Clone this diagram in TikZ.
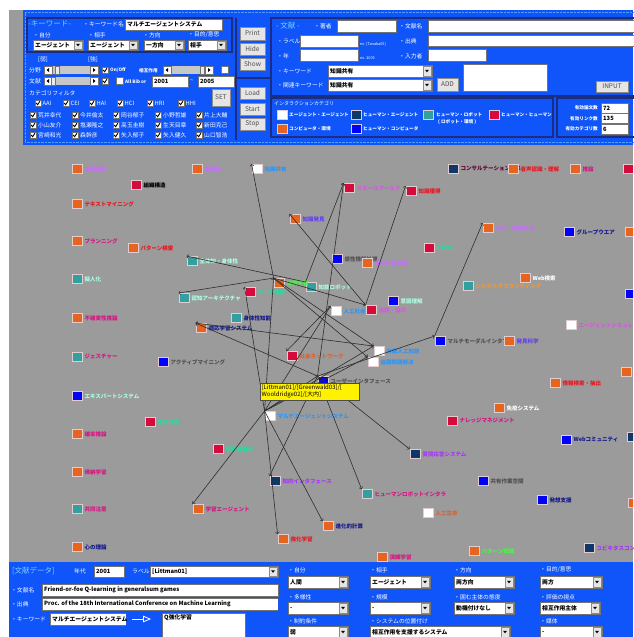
\documentclass[tikz,border=0pt]{standalone}
\usepackage{fontspec}
\setmainfont{Noto Sans CJK JP}
\usepackage{xcolor}
\usetikzlibrary{arrows}
\definecolor{panelblue}{RGB}{15,85,250}
\definecolor{panelnavy}{RGB}{25,45,130}
\definecolor{canvasgray}{RGB}{155,155,155}
\definecolor{titlecyan}{RGB}{120,210,255}
\definecolor{kwnavy}{RGB}{15,55,105}
\definecolor{kwteal}{RGB}{50,160,160}
\definecolor{kwcrim}{RGB}{215,10,60}
\definecolor{kworange}{RGB}{230,100,30}
\definecolor{kwblue}{RGB}{0,0,255}
\definecolor{rimcol}{RGB}{225,205,205}
\definecolor{lnkgray}{RGB}{45,45,45}
\definecolor{lblav}{RGB}{200,110,255}
\definecolor{lbred}{RGB}{235,20,30}
\definecolor{lbmag}{RGB}{215,20,130}
\definecolor{lbmint}{RGB}{170,255,225}
\definecolor{lbsky}{RGB}{40,150,255}
\definecolor{lbpurp}{RGB}{100,60,240}
\definecolor{lbgreen}{RGB}{60,255,60}
\definecolor{lbmaroon}{RGB}{100,0,50}
\definecolor{lborchid}{RGB}{210,90,220}
\definecolor{lbspring}{RGB}{30,225,160}
\definecolor{lbnavy}{RGB}{20,25,140}
\definecolor{lbgray}{RGB}{80,80,80}
\definecolor{lborange}{RGB}{255,150,30}
\definecolor{lbviolet}{RGB}{170,50,255}
\definecolor{lbcoral}{RGB}{225,95,40}
\tikzset{
	field/.style={draw=black!55, fill=white, line width=0.5pt},
	btnsty/.style={draw=black!45, fill=black!10, line width=0.6pt},
	subpanel/.style={draw=panelnavy, line width=1.2pt},
	wtxt/.style={text=white, anchor=west, inner sep=0pt, font=\fontsize{5.8}{7}\selectfont},
	smalltxt/.style={text=white, anchor=west, inner sep=0pt, font=\fontsize{4.6}{5}\selectfont\bfseries},
	fldtxt/.style={text=black, anchor=west, inner sep=0pt, font=\fontsize{5.8}{7}\selectfont\bfseries},
	ttl/.style={text=titlecyan, anchor=west, inner sep=0pt, font=\fontsize{7.5}{8}\selectfont},
	kw/.style={draw=rimcol, line width=0.9pt, minimum width=10pt, minimum height=9pt, inner sep=0pt},
	kwlbl/.style={anchor=west, inner sep=0pt, font=\fontsize{5.5}{6.5}\selectfont\bfseries},
	lnk/.style={->, draw=lnkgray, line width=0.6pt},
}
% widgets
\newcommand{\fld}[5]{\draw[field] (#1,#2) rectangle (#3,#4);
	\node[fldtxt] at ({#1+2},{(#2+#4)/2}) {#5};}
\newcommand{\cmbbox}[5]{\fld{#1}{#2}{#3}{#4}{#5}
	\draw[btnsty] ({#3-9},{#2+1}) rectangle ({#3-1},{#4-1});
	\fill[black] ({#3-7},{(#2+#4)/2-1.2}) -- ({#3-3},{(#2+#4)/2-1.2}) -- ({#3-5},{(#2+#4)/2+1.3}) -- cycle;}
\newcommand{\btn}[5]{\draw[btnsty] (#1,#2) rectangle (#3,#4);
	\node[text=black!70, inner sep=0pt, font=\fontsize{6.5}{7}\selectfont] at ({(#1+#3)/2},{(#2+#4)/2}) {#5};}
\newcommand{\chk}[2]{\draw[field] (#1,#2) rectangle ({#1+6},{#2+6});
	\draw[black, line width=0.9pt] ({#1+1.2},{#2+3}) -- ({#1+2.6},{#2+4.7}) -- ({#1+4.9},{#2+1.2});}
\newcommand{\unchk}[2]{\draw[field] (#1,#2) rectangle ({#1+7},{#2+7});}
\newcommand{\sldr}[4]{\fill[black!22] (#1,{#3-4}) rectangle (#2,{#3+4});
	\draw[field] (#1,{#3-4}) rectangle ({#1+8},{#3+4});
	\draw[field] ({#2-8},{#3-4}) rectangle (#2,{#3+4});
	\fill[black] ({#1+2.5},#3) -- ({#1+5},{#3-2}) -- ({#1+5},{#3+2}) -- cycle;
	\fill[black] ({#2-2.5},#3) -- ({#2-5},{#3-2}) -- ({#2-5},{#3+2}) -- cycle;
	\draw[field, fill=black!8] (#4,{#3-4}) rectangle ({#4+4},{#3+4});}
\newcommand{\lgsq}[3]{\draw[kw, fill=#3] (#1,#2) rectangle ({#1+10},{#2+9});}

\begin{document}
\begin{tikzpicture}[x=1pt,y=-1pt]
	% Frame
	\useasboundingbox (0,0) rectangle (633,637);
	\fill[white] (0,0) rectangle (633,637);
	\fill[canvasgray] (9,10) rectangle (633,637);

	% Top panel
	\fill[panelblue] (23,10) rectangle (633,145);
	\draw[titlecyan!60!panelblue, densely dotted] (25,12.5) rectangle (640,142.5);

	% Keyword box
	\draw[subpanel] (27,18) rectangle (232,52);
	\node[ttl] at (28,24) {-キーワード-};
	\node[wtxt] at (83,24) {・キーワード名};
	\fld{125}{19}{222}{30}{マルチエージェントシステム}
	\node[wtxt] at (33,35) {・自分};
	\node[wtxt] at (88,35) {・相手};
	\node[wtxt] at (143,35) {・方向};
	\node[wtxt] at (188,35) {・目的/意思};
	\cmbbox{33}{40}{83}{50}{エージェント}
	\cmbbox{88}{40}{138}{50}{エージェント}
	\cmbbox{144}{40}{184}{50}{一方向}
	\cmbbox{188}{40}{226}{50}{相手}

	% Sliders and filters
	\node[wtxt] at (38,60) {[弱]};
	\node[wtxt] at (88,60) {[強]};
	\node[wtxt] at (29,70) {分野};
	\sldr{44}{98}{70}{55}
	\chk{102}{67}
	\node[smalltxt] at (110,70.5) {On/Off};
	\node[smalltxt] at (139,70.5) {相互作用};
	\sldr{163}{213}{70}{200}
	\unchk{221}{66}
	\node[wtxt] at (29,81) {文献};
	\sldr{44}{98}{81}{51}
	\chk{102}{78}
	\unchk{116}{77}
	\node[smalltxt] at (125,81.5) {All Bib or};
	\fld{152}{76}{188}{87}{2001}
	\node[wtxt] at (190,81) {\textasciitilde};
	\fld{198}{76}{234}{87}{2005}
	\node[wtxt] at (29,93) {カテゴリフィルタ};
	\foreach \cx/\ct in {35/AAI, 63/CEI, 89/HAI, 117/HCI, 147/HRI, 178/HHI} {
		\chk{\cx}{100}
		\node[wtxt] at (\cx+7.5,103.5) {\ct};
	}
	\btn{212}{89}{230}{106}{SET}
	\foreach \ry/\na/\nb/\nc/\nd/\ne in {115/荒井幸代/今井倫太/岡谷郁子/小野哲雄/片上大輔,
		125/小山友介/塩瀬隆之/高玉圭樹/生天目章/新田克己,
		135/宮崎和光/森幹彦/矢入郁子/矢入健久/山口智浩} {
		\chk{30}{\ry-3}   \node[wtxt] at (38,\ry) {\na};
		\chk{72}{\ry-3}   \node[wtxt] at (80,\ry) {\nb};
		\chk{113}{\ry-3}  \node[wtxt] at (121,\ry) {\nc};
		\chk{155}{\ry-3}  \node[wtxt] at (163,\ry) {\nd};
		\chk{196}{\ry-3}  \node[wtxt] at (204,\ry) {\ne};
	}

	% Buttons
	\draw[subpanel] (236,18) -- (236,140);
	\draw[subpanel] (236,78) -- (271,78);
	\btn{240}{27}{265}{40}{Print}
	\btn{240}{43}{265}{55}{Hide}
	\btn{240}{58}{265}{70}{Show}
	\btn{240}{87}{265}{99}{Load}
	\btn{240}{103}{265}{115}{Start}
	\btn{240}{118}{265}{130}{Stop}

	% Bibliography input box
	\draw[subpanel] (271,18) rectangle (640,96);
	\node[ttl] at (276,26) {- 文献 -};
	\node[wtxt] at (314,26) {・著者};
	\fld{337}{20}{396}{32}{}
	\node[wtxt] at (399,26) {・文献名};
	\fld{428}{20}{640}{32}{}
	\node[wtxt] at (277,41) {・ラベル};
	\fld{300}{35}{358}{47}{}
	\node[smalltxt, font=\fontsize{3.8}{4}\selectfont] at (360,44) {ex. [Tanaka05]};
	\node[wtxt] at (399,41) {・出典};
	\fld{428}{35}{640}{46}{}
	\node[wtxt] at (277,56) {・年};
	\fld{300}{49}{358}{61}{}
	\node[smalltxt, font=\fontsize{3.8}{4}\selectfont] at (360,58) {ex. 2005};
	\node[wtxt] at (399,56) {・入力者};
	\fld{428}{49}{486}{61}{}
	\node[wtxt] at (277,71) {・キーワード};
	\cmbbox{328}{65}{432}{77}{知識共有}
	\node[wtxt] at (277,85) {・関連キーワード};
	\cmbbox{328}{79}{432}{91}{知識共有}
	\btn{437}{78}{458}{91}{ADD}
	\fld{463}{64}{547}{91}{}
	\btn{596}{81}{628}{92}{INPUT}

	% Interaction categories
	\draw[subpanel] (271,98) rectangle (553,137);
	\node[smalltxt, font=\fontsize{5}{6}\selectfont\itshape] at (274,103.5) {インタラクションカテゴリ};
	\lgsq{277}{110}{white}  \node[smalltxt] at (289,114.5) {エージェント・エージェント};
	\lgsq{351}{110}{kwnavy} \node[smalltxt] at (363,114.5) {ヒューマン・エージェント};
	\lgsq{423}{110}{kwteal} \node[smalltxt] at (436,114.5) {ヒューマン・ロボット};
	\node[smalltxt] at (438,122) {(\ ロボット・環境\ )};
	\lgsq{489}{110}{kwcrim} \node[smalltxt] at (501,114.5) {ヒューマン・ヒューマン};
	\lgsq{277}{124}{kworange} \node[smalltxt] at (289,128.5) {コンピュータ・環境};
	\lgsq{351}{124}{kwblue} \node[smalltxt] at (363,128.5) {ヒューマン・コンピュータ};

	% Counters
	\draw[subpanel] (557,98) rectangle (640,137);
	\node[smalltxt, anchor=east] at (598,108) {有効論文数};
	\node[smalltxt, anchor=east] at (598,118.5) {有効リンク数};
	\node[smalltxt, anchor=east] at (598,129) {有効カテゴリ数};
	\fld{601}{103}{628}{113}{72}
	\fld{601}{113.5}{628}{123.5}{135}
	\fld{601}{124.5}{628}{134}{6}

	% Keyword graph
	\begin{scope}
		\clip (9,148) rectangle (633,562);
		\foreach \nm/\x/\y/\fc/\lc/\tx in {
			coopint/77/169/kworange/lblav/協調知能,
			textmine/77/204/kworange/lbred/テキストマイニング,
			planning/77/241/kworange/lbmag/プランニング,
			anthro/77/279/kwteal/lbmint/擬人化,
			uncert/77/318/kworange/lbmag/不確実性推論,
			gesture/77/357/kwteal/lbmag/ジェスチャー,
			expert/77/396/kwblue/lbmint/エキスパートシステム,
			probinf/77/434/kworange/lbmag/確率推論,
			induct/77/472/kworange/lbmag/帰納学習,
			jointatt/77/509/kwteal/lbmag/共同注意,
			tom/77/547/kworange/lbnavy/心の理論,
			optim/197/169/kworange/lblav/最適化,
			kshare/257/169/white/lbsky/知識共有,
			orgstr/136/185/kwcrim/black/組織構造,
			kdisc/295/219/kworange/lbpurp/知識発見,
			patsearch/133/248/kworange/lbred/パターン検索,
			embody/192/261/kwteal/lbmint/全体知・身体性,
			kansei/337/259/kwblue/lbgray/感性情報処理,
			speechdlg/367/263/kworange/lblav/音声対話処理,
			irobot/311/287/kwteal/lbmint/知能ロボット,
			coopl/279/283/kworange/lbgreen/協調学習,
			consult/453/169/kwnavy/lbmaroon/コンサルテーションシス,
			speechrec/513/169/kworange/lbred/音声認識・理解,
			reason/575/169/kworange/lbmag/推論,
			smallw/349/188/kwcrim/lborchid/スモールワールド,
			kacq/411/191/kwcrim/lbred/知識獲得,
			avproc/488/228/kworange/lblav/音声・画像処理,
			groupware/569/232/kwblue/lbnavy/グループウエア,
			cscw/429/248/kwcrim/lbspring/CSCW,
			websearch/525/278/kworange/white/Web検索,
			symground/468/286/kwteal/lborange/シンボルグラウンディング,
			cogarch/184/298/kwteal/lbmint/認知アーキテクチャ,
			gametheory/250/292/kwcrim/lbspring/ゲーム理論,
			embint/236/318/kwteal/lbnavy/身体性知能,
			adaptl/201/328/kworange/lbnavy/適応学習システム,
			artsoc/336/311/white/lbsky/人工社会,
			coop/371/310/kwcrim/lborchid/協調・協力,
			intent/393/301/kwblue/lbmint/意図理解,
			activemine/163/362/kwblue/lbgray/アクティブマイニング,
			socnet/292/356/kwcrim/lbcoral/社会ネットワーク,
			hi/323/381/kwblue/lbgray/ユーザーインタフェース,
			mas/270/416/white/lbsky/マルチエージェントシステム,
			decision/150/422/kwcrim/lbspring/意思決定,
			multimodal/440/341/kwblue/lbgray/マルチモーダルインタフ,
			discsci/509/341/kworange/lbpurp/発見科学,
			dai/379/351/white/lbsky/分散人工知能,
			cps/373/362/white/lbsky/協調問題解決,
			agentsim/571/325/white/lborchid/エージェントシミュレ,
			infoext/555/383/kworange/lbred/情報検索・抽出,
			immune/499/408/kworange/white/免疫システム,
			km/452/421/kwcrim/lbmag/ナレッジマネジメント,
			expecon/218/449/kwcrim/lbspring/実験経済学,
			intelif/275/481/kwnavy/lbviolet/知的インタフェース,
			learnag/198/509/kworange/lbmag/学習エージェント,
			rl/283/539/kworange/lbred/強化学習,
			evo/328/526/kworange/lbnavy/進化的計算,
			qa/415/454/kwnavy/lbviolet/質問応答システム,
			webcomm/566/440/kwblue/lbnavy/Webコミュニティ,
			sharedws/483/481/kwblue/lbgray/共有作業空間,
			hri/367/494/kwteal/lbmag/ヒューマンロボットインタラ,
			ideasup/542/500/kwblue/lbnavy/発想支援,
			alife/428/513/white/lbcoral/人工生命,
			patrec/474/551/kworange/lbgreen/パターン認識,
			ubicomp/589/548/kwnavy/lbviolet/ユビキタスコン,
			deductl/382/557/kworange/lbmag/演繹学習} {
			\node[kw, fill=\fc] (\nm) at (\x,\y) {};
			\node[kwlbl, text=\lc] (\nm-l) at ([xshift=2pt]\nm.east) {\tx};
		}
		% nodes cut by the right edge
		\foreach \nm/\x/\y/\fc in {edgea/628/169/kwcrim, edgeb/630/232/kworange,
			edgec/630/294/kwblue, edged/626/372/kworange, edgee/632/437/kwnavy,
			edgef/633/503/kworange}
			\node[kw, fill=\fc] (\nm) at (\x,\y) {};

		% Links
		\foreach \a/\b in {coopl/kshare, mas/coopl, coop/kdisc, irobot/smallw, hi/smallw,
			coop/kacq, multimodal/avproc, hi/multimodal, irobot/embody, coopl/cogarch,
			hi/adaptl, dai/adaptl, coopl/dai, coopl/cps, mas/dai, mas/cps, hi/intelif,
			hi/hri, hi/qa, mas/learnag, mas/rl, mas/evo, artsoc/socnet, coopl/coop,
			mas/hi, mas/gametheory, mas/artsoc}
			\draw[lnk] (\a.north west) -- (\b.north west);

		% Tooltip
		\node[draw=black!70, fill=yellow, anchor=north west, inner sep=1.5pt, align=left,
			text width=96pt, font=\fontsize{6}{7.5}\selectfont] (tip) at (260,383)
			{[Littman01]/[Greenwald03]/[\\Wooldridge02]/[大内]};
	\end{scope}

	% Bottom panel
	\fill[panelblue] (9,562) rectangle (633,637);
	\node[ttl] at (12,571) {[文献データ]};
	\node[wtxt] at (74,571) {年代};
	\fld{94}{566}{124}{577}{2001}
	\node[wtxt] at (132,571) {ラベル};
	\cmbbox{150}{566}{278}{577}{[Littman01]}
	\node[wtxt] at (11,590) {・文献名};
	\fld{42}{584}{278}{596}{Friend-or-foe Q-learning in generalsum games}
	\node[wtxt] at (11,604) {・出典};
	\begin{scope}
		\clip (42,597) rectangle (278,611);
		\fld{42}{598}{278}{610}{Proc. of the 18th International Conference on Machine Learning}
	\end{scope}
	\node[wtxt] at (11,619) {・キーワード};
	\begin{scope}
		\clip (50,612) rectangle (126,626);
		\fld{50}{613}{126}{625}{マルチエージェントシステム}
	\end{scope}
	\draw[white, line width=0.8pt, -open triangle 45] (132,619) -- (151,619);
	\draw[field] (162,613) rectangle (245,640);
	\node[fldtxt, anchor=north west] at (164,614) {Q強化学習};

	% Bibliography attributes
	\node[wtxt] at (288,570) {・自分};
	\node[wtxt] at (370,570) {・相手};
	\node[wtxt] at (454,570) {・方向};
	\node[wtxt] at (540,570) {・目的/意思};
	\cmbbox{288}{576}{348}{588}{人間}
	\cmbbox{370}{576}{430}{588}{エージェント}
	\cmbbox{454}{576}{514}{588}{両方向}
	\cmbbox{540}{576}{602}{588}{両方}
	\node[wtxt] at (288,597) {・多様性};
	\node[wtxt] at (370,597) {・規模};
	\node[wtxt] at (454,597) {・囲む主体の態度};
	\node[wtxt] at (540,597) {・評価の視点};
	\cmbbox{288}{602}{348}{614}{-}
	\cmbbox{370}{602}{430}{614}{-}
	\cmbbox{454}{602}{514}{614}{動機付けなし}
	\cmbbox{540}{602}{600}{614}{相互作用主体}
	\node[wtxt] at (288,621) {・制約条件};
	\node[wtxt] at (370,621) {・システムの位置付け};
	\node[wtxt] at (540,621) {・媒体};
	\cmbbox{288}{626}{348}{638}{弱}
	\cmbbox{370}{626}{510}{638}{相互作用を支援するシステム}
	\cmbbox{540}{626}{602}{638}{-}
\end{tikzpicture}
\end{document}
